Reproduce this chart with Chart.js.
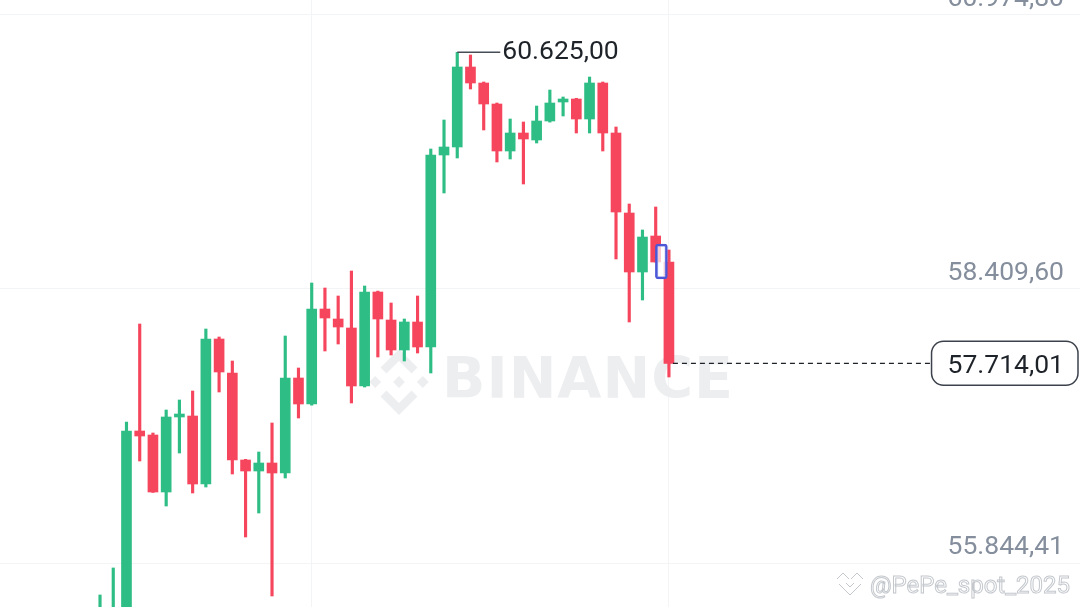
<!DOCTYPE html>
<html>
<head>
<meta charset="utf-8">
<script src="https://cdn.jsdelivr.net/npm/chart.js@4.4.1/dist/chart.umd.min.js"></script>
<style>
  html, body { margin: 0; padding: 0; background: #fff; }
  #wrap { width: 1080px; height: 607px; position: relative; }
</style>
</head>
<body>
<div id="wrap"><canvas id="candleChart"></canvas></div>
<script>
// OHLC per candle (oldest -> newest)
var openP  = [54950, 55380, 55420, 57080.2, 57042.7, 56509.1, 57211.3, 57220.6, 56584.0, 57941.5,
              57623.2, 56808.7, 56705.7, 56780.6, 56687.0, 57576.4, 57333.0, 58222.4, 58128.7, 58044.5,
              57501.5, 58381.5, 58119.4, 57838.5, 58100.7, 57866.6, 59664.1, 59739.0, 60488.0, 60338.2,
              60141.6, 59701.6, 59870.1, 59804.5, 59982.4, 60160.3, 60188.4, 60001.1, 60338.2, 59870.1,
              59121.1, 58568.8, 58905.8, 58662.4];
var highP  = [55545, 55798, 57164.5, 58081.9, 57061.5, 57276.8, 57370.4, 57454.7, 58035.1, 57960.2,
              57735.5, 56815.0, 56883.6, 57155.1, 57969.6, 57670.0, 58465.8, 58419.0, 58344.1, 58578.1,
              58437.7, 58390.0, 58278.5, 58128.7, 58344.1, 59720.3, 59991.8, 60625.0, 60600.3, 60347.5,
              60151.0, 60001.1, 59973.1, 60122.8, 60272.6, 60207.1, 60195.0, 60394.3, 60347.5, 59926.2,
              59205.4, 58962.0, 59177.3, 58774.7];
var lowP   = [54750, 55250, 55350, 56799.3, 56505.0, 56378.0, 56874.2, 56499.8, 56555.9, 57445.3,
              56677.6, 56087.8, 56312.5, 55535.5, 56640.2, 57201.9, 57322.0, 57829.2, 57894.7, 57342.3,
              57492.0, 57773.0, 57791.7, 57735.5, 57810.4, 57623.2, 59308.4, 59636.0, 60282.0, 59898.2,
              59598.6, 59626.7, 59392.6, 59776.5, 59972.0, 60029.2, 59870.1, 59870.1, 59701.6, 58690.5,
              58100.7, 58306.6, 58662.0, 57585.7];
var closeP = [55400, 55420, 57080.2, 57033.4, 56509.1, 57211.3, 57239.3, 56584.0, 57941.5, 57632.6,
              56808.7, 56705.7, 56780.6, 56687.0, 57576.4, 57333.0, 58222.4, 58138.1, 58053.8, 57501.5,
              58381.5, 58128.7, 57838.5, 58100.7, 57866.6, 59664.1, 59739.0, 60488.0, 60338.2, 60141.6,
              59701.6, 59870.1, 59813.9, 59982.4, 60150.9, 60188.4, 60001.1, 60338.2, 59870.1, 59130.5,
              58568.8, 58896.4, 58662.4, 57714.01];

// price axis grid/labels and the two vertical time grid lines (candle index)
var yTicks = [55844.41, 58409.60, 60974.80];
var xGridAt = [16, 43];

// blue drawing box next to the last candles: [index, low, high]
var markBox = [42.43, 58503, 58831];

var GREEN = '#2EBD85';
var RED = '#F6465D';
var GRID = '#F3F4F6';

function fmt(v) {
  var parts = v.toFixed(2).split('.');
  return parts[0].replace(/\B(?=(\d{3})+(?!\d))/g, '.') + ',' + parts[1];
}

var colors = openP.map(function (o, i) { return closeP[i] >= o ? GREEN : RED; });
var bodies = openP.map(function (o, i) { return { x: i, y: [o, closeP[i]] }; });
var wicks = openP.map(function (o, i) { return { x: i, y: [lowP[i], highP[i]] }; });

// Binance watermark behind the candles
var watermark = {
  id: 'watermark',
  beforeDatasetsDraw: function (chart) {
    var ctx = chart.ctx;
    ctx.save();
    ctx.fillStyle = '#EDEEF0';
    // logo
    var cx = 399, cy = 382, r = 33;
    function poly(pts) {
      ctx.beginPath();
      pts.forEach(function (p, k) {
        var px = cx + p[0] * r, py = cy + p[1] * r;
        if (k === 0) ctx.moveTo(px, py); else ctx.lineTo(px, py);
      });
      ctx.closePath();
      ctx.fill();
    }
    var h = 0.18;
    [[0, 0], [-0.72, 0], [0.72, 0]].forEach(function (c) {
      poly([[c[0], c[1] - h], [c[0] + h, c[1]], [c[0], c[1] + h], [c[0] - h, c[1]]]);
    });
    poly([[0, -1], [0.56, -0.44], [0.38, -0.26], [0, -0.64], [-0.38, -0.26], [-0.56, -0.44]]);
    poly([[0, 1], [0.56, 0.44], [0.38, 0.26], [0, 0.64], [-0.38, 0.26], [-0.56, 0.44]]);
    // word
    ctx.font = 'bold 57px "DejaVu Sans"';
    ctx.letterSpacing = '1px';
    ctx.textAlign = 'left';
    ctx.textBaseline = 'alphabetic';
    ctx.fillText('BINANCE', 442, 398);
    ctx.restore();
  }
};

// price labels, high marker, last price line and box, author tag
var overlay = {
  id: 'overlay',
  afterDraw: function (chart) {
    var ctx = chart.ctx;
    var xs = chart.scales.x, ys = chart.scales.y;
    var W = chart.width;
    ctx.save();

    // right side price labels
    ctx.font = '26.5px Roboto';
    ctx.fillStyle = '#848E9C';
    ctx.textAlign = 'right';
    ctx.textBaseline = 'alphabetic';
    yTicks.forEach(function (v) {
      ctx.fillText(fmt(v), W - 16, ys.getPixelForValue(v) - 9);
    });

    // highest high marker
    var hi = Math.max.apply(null, highP);
    var hiIdx = highP.indexOf(hi);
    var hx = xs.getPixelForValue(hiIdx), hy = ys.getPixelForValue(hi);
    ctx.strokeStyle = '#474D57';
    ctx.lineWidth = 1.5;
    ctx.beginPath();
    ctx.moveTo(hx, hy);
    ctx.lineTo(hx + 43, hy);
    ctx.stroke();
    ctx.fillStyle = '#1E2329';
    ctx.textAlign = 'left';
    ctx.fillText(fmt(hi), hx + 45, hy + 7);

    // last price dashed line + box
    var last = closeP[closeP.length - 1];
    var lx = xs.getPixelForValue(closeP.length - 1) + 4;
    var ly = ys.getPixelForValue(last);
    var label = fmt(last);
    var tw = ctx.measureText(label).width;
    var bw = tw + 30, bh = 44;
    var bx = W - 2 - bw, by = ly - bh / 2;
    ctx.setLineDash([5, 4]);
    ctx.strokeStyle = '#1E2329';
    ctx.lineWidth = 1.2;
    ctx.beginPath();
    ctx.moveTo(lx, ly);
    ctx.lineTo(bx - 1, ly);
    ctx.stroke();
    ctx.setLineDash([]);
    ctx.fillStyle = '#fff';
    ctx.strokeStyle = '#3C424C';
    ctx.lineWidth = 1.5;
    ctx.beginPath();
    ctx.roundRect(bx, by, bw, bh, 12);
    ctx.fill();
    ctx.stroke();
    ctx.fillStyle = '#1E2329';
    ctx.textAlign = 'right';
    ctx.fillText(label, W - 16, ly + 10);

    // author tag bottom right (outlined)
    ctx.font = '24px Roboto';
    ctx.textAlign = 'right';
    ctx.strokeStyle = '#C4C8CD';
    ctx.lineWidth = 1;
    ctx.strokeText('@PePe_spot_2025', W - 10, 593);
    var ix = 850, iy = 582;
    ctx.beginPath();
    ctx.moveTo(ix - 13, iy - 3); ctx.lineTo(ix - 7, iy - 9); ctx.lineTo(ix - 1, iy - 3);
    ctx.moveTo(ix + 1, iy - 3); ctx.lineTo(ix + 7, iy - 9); ctx.lineTo(ix + 13, iy - 3);
    ctx.moveTo(ix - 11, iy + 2); ctx.lineTo(ix, iy + 13); ctx.lineTo(ix + 11, iy + 2);
    ctx.moveTo(ix - 4, iy + 1); ctx.lineTo(ix, iy + 5); ctx.lineTo(ix + 4, iy + 1);
    ctx.stroke();
    ctx.restore();
  }
};

var ctx = document.getElementById('candleChart').getContext('2d');

new Chart(ctx, {
  type: 'bar',
  data: {
    datasets: [
      {
        // drawn last, so it sits on top of the candles
        data: [{ x: markBox[0], y: [markBox[1], markBox[2]] }],
        backgroundColor: 'rgba(255,255,255,0.7)',
        borderColor: '#4B57D6',
        borderWidth: 2.5,
        borderRadius: 3,
        borderSkipped: false,
        barThickness: 12,
        grouped: false
      },
      {
        data: bodies,
        backgroundColor: colors,
        barThickness: 10,
        grouped: false
      },
      {
        data: wicks,
        backgroundColor: colors,
        barThickness: 2.5,
        grouped: false
      }
    ]
  },
  options: {
    responsive: true,
    maintainAspectRatio: false,
    animation: false,
    layout: { padding: 0 },
    plugins: {
      legend: { display: false },
      tooltip: { enabled: false }
    },
    scales: {
      x: {
        type: 'linear',
        min: -7.56,
        max: 74.07,
        offset: false,
        grid: { color: GRID, drawTicks: false, offset: false },
        border: { display: false },
        ticks: { display: false },
        afterBuildTicks: function (s) {
          s.ticks = xGridAt.map(function (v) { return { value: v }; });
        }
      },
      y: {
        position: 'right',
        min: 55432.5,
        max: 61115.2,
        grid: { color: GRID, drawTicks: false },
        border: { display: false },
        ticks: { display: false },
        afterBuildTicks: function (s) {
          s.ticks = yTicks.map(function (v) { return { value: v }; });
        }
      }
    }
  },
  plugins: [watermark, overlay]
});
</script>
</body>
</html>
